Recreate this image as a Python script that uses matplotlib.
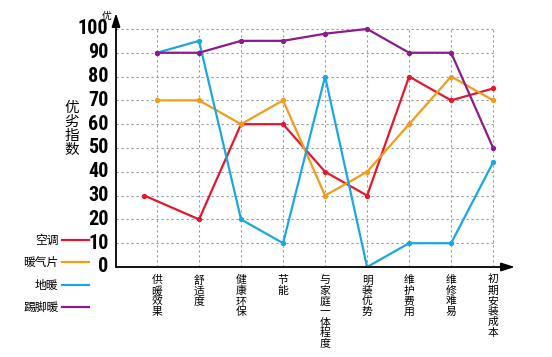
import numpy as np
import matplotlib
matplotlib.use("Agg")
import matplotlib.pyplot as plt
from matplotlib import font_manager

plt.rcParams['font.family'] = ['Noto Sans CJK SC', 'DejaVu Sans']

# =============================================================================
# DATA
# =============================================================================

categories = ["供暖效果", "舒适度", "健康环保", "节能", "与家庭一体程度",
              "明装优势", "维护费用", "维修难易", "初期安装成本"]

# 空调 starts a little before the first category
ac_x = [-0.3, 1, 2, 3, 4, 5, 6, 7, 8]
ac_vals = [30, 20, 60, 60, 40, 30, 80, 70, 75]
radiator_vals = [70, 70, 60, 70, 30, 40, 60, 80, 70]
floor_vals = [90, 95, 20, 10, 80, 0, 10, 10, 44]
skirting_vals = [90, 90, 95, 95, 98, 100, 90, 90, 50]

series_names = ["空调", "暖气片", "地暖", "踢脚暖"]
colors = ["#e3182d", "#f39b1c", "#1ba8e2", "#8b1c8a"]

yticks = list(range(0, 101, 10))

# pick a narrow bold face for the tick numbers if one is there
names = {f.name for f in font_manager.fontManager.ttflist}
narrow = "DejaVu Sans"
for cand in ["Liberation Sans Narrow", "Roboto Condensed", "Open Sans Condensed", "DejaVu Sans Condensed"]:
    if cand in names:
        narrow = cand
        break

# =============================================================================
# PLOT
# =============================================================================

fig = plt.figure(figsize=(5.52, 3.57), dpi=100)
ax = fig.add_axes([116/552, 1-267/357, (515-116)/552, (267-13)/357])

x = np.arange(len(categories))
xmin, xmax = -0.976, 8.52
ymax = 106.7
ax.set_xlim(xmin, xmax)
ax.set_ylim(0, ymax)

# grid
for yv in yticks[1:]:
    ax.plot([xmin, 8], [yv, yv], ls=(0, (2, 2.5)), lw=0.8, c="#999999", zorder=0)
for xv in x:
    ax.plot([xv, xv], [0, 100], ls=(0, (2, 2.5)), lw=0.8, c="#999999", zorder=0)

all_x = [ac_x, x, x, x]
all_vals = [ac_vals, radiator_vals, floor_vals, skirting_vals]
for xs, vals, name, c in zip(all_x, all_vals, series_names, colors):
    ax.plot(xs, vals, c=c, lw=1.6, marker="o", ms=2.8, label=name, zorder=3)

# axes with arrows
for s in ax.spines.values():
    s.set_visible(False)
ax.annotate("", xy=(xmin, ymax), xytext=(xmin, 0),
            arrowprops=dict(arrowstyle="-|>,head_length=0.8,head_width=0.25", lw=1.3, color="black",
                            shrinkA=0, shrinkB=0), annotation_clip=False)
ax.annotate("", xy=(xmax, 0), xytext=(xmin, 0),
            arrowprops=dict(arrowstyle="-|>,head_length=0.8,head_width=0.25", lw=1.3, color="black",
                            shrinkA=0, shrinkB=0), annotation_clip=False)

ax.set_xticks([])
ax.set_yticks([])
for yv in yticks:
    ax.text(xmin - 0.18, yv, str(yv), ha="right", va="center", fontsize=14.5,
            fontweight="bold", family=narrow, fontstretch="condensed", clip_on=False)

ax.text(xmin - 0.1, 105.5, "优", ha="right", va="center", fontsize=7, clip_on=False)
ax.text(xmin - 1.05, 58, "\n".join("优劣指数"), ha="center", va="center",
        fontsize=10.5, linespacing=1.0, clip_on=False)

for xv, lab in zip(x, categories):
    ax.text(xv, -3.5, "\n".join(lab), ha="center", va="top", fontsize=7.8,
            linespacing=1.05, clip_on=False)

ax.legend(loc="upper right", bbox_to_anchor=(89/552, 1-234/357), bbox_transform=fig.transFigure,
          markerfirst=False, frameon=False, fontsize=8.5, handlelength=2.3,
          handletextpad=0.3, labelspacing=0.8, borderaxespad=0, borderpad=0)
for line in ax.get_legend().get_lines():
    line.set_marker("")
    line.set_linewidth(1.6)

fig.savefig("out.png", dpi=100)
